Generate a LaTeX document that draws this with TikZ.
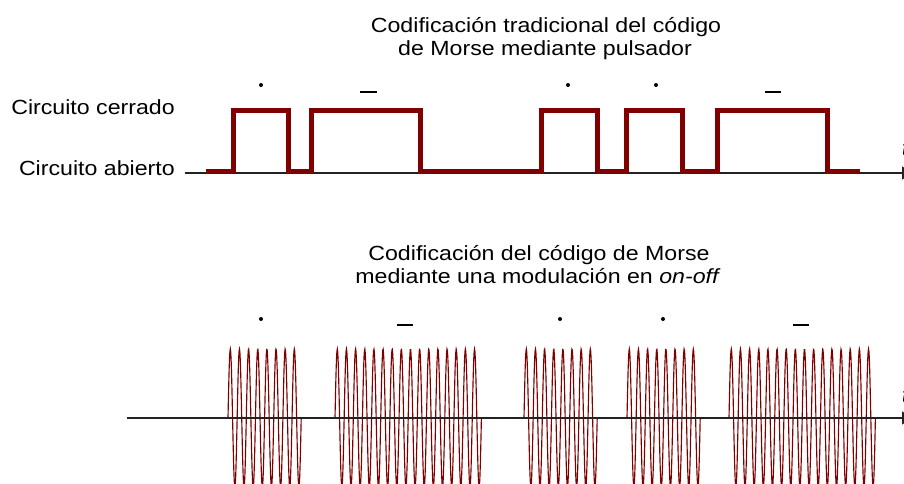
\documentclass[tikz,border=0pt]{standalone}
\usepackage{fontspec}
\usepackage{graphicx}
\setmainfont{Liberation Sans}
\usetikzlibrary{arrows.meta}
\definecolor{maroon}{HTML}{800000}
\definecolor{axisgray}{HTML}{222222}
\newcommand{\wtxt}[1]{\scalebox{1.13}[1]{#1}}
\tikzset{
  lbl/.style={inner sep=0pt, anchor=base, font=\fontsize{20.5}{24}\selectfont},
  lblr/.style={lbl, anchor=base east},
  axisline/.style={draw=axisgray, line width=1.6pt, -{Triangle[length=10pt,width=13pt]}},
  pulse/.style={draw=maroon, line width=5pt, line join=miter},
  wave/.style={draw=maroon, line width=1.15pt},
  dotmark/.style={fill=black},
  dashmark/.style={draw=black, line width=2.4pt},
}
\begin{document}
\begin{tikzpicture}[x=1pt,y=-1pt]
\useasboundingbox (0,0) rectangle (904,483);
\fill[white] (0,0) rectangle (904,483);
\clip (0,0) rectangle (904,483);

% titles
\node[lbl] (t1a) at (546,32) {\wtxt{Codificación tradicional del código}};
\node[lbl] (t1b) at (545,55.5) {\wtxt{de Morse mediante pulsador}};
\node[lbl] (t2a) at (539,260.5) {\wtxt{Codificación del código de Morse}};
\node[lbl] (t2b) at (538,283.5) {\wtxt{mediante una modulación en \textit{on-off}}};

% level labels
\node[lblr] (cc) at (175,114) {\wtxt{Circuito cerrado}};
\node[lblr] (ca) at (175,175) {\wtxt{Circuito abierto}};

% on-off modulated bursts
\foreach \s/\n in {228/8, 335/16, 524/8, 627/8, 729/16} {
  \draw[wave] plot[domain=0:\n*9.15, samples=\n*24] ({\s+\x}, {418-69*sin((\x/9.15)*360)});
}

% axes
\coordinate (a1s) at (185,173);
\coordinate (a1e) at (912,173);
\coordinate (a2s) at (127,418);
\coordinate (a2e) at (912,418);
\draw[axisline] (a1s) -- (a1e);
\draw[axisline] (a2s) -- (a2e);
\node[lbl, anchor=base west, font=\fontsize{20.5}{24}\selectfont\itshape] (tl1) at (902,155) {t};
\node[lbl, anchor=base west, font=\fontsize{20.5}{24}\selectfont\itshape] (tl2) at (902,402) {t};

% top pulse train
\draw[pulse] (206,171) -- (233.5,171) -- (233.5,110) -- (288,110) -- (288,171)
  -- (311.5,171) -- (311.5,110) -- (420.5,110) -- (420.5,171)
  -- (541,171) -- (541,110) -- (597,110) -- (597,171)
  -- (626,171) -- (626,110) -- (682,110) -- (682,171)
  -- (717,171) -- (717,110) -- (827,110) -- (827,171) -- (860,171);

% top marks
\fill[dotmark] (261,85) circle (2pt);
\draw[dashmark] (360,92) -- (377,92);
\fill[dotmark] (568,85) circle (2pt);
\fill[dotmark] (656,85) circle (2pt);
\draw[dashmark] (765,92) -- (781,92);

% bottom marks
\fill[dotmark] (261,319) circle (2pt);
\draw[dashmark] (397,325) -- (413,325);
\fill[dotmark] (560,319) circle (2pt);
\fill[dotmark] (663,319) circle (2pt);
\draw[dashmark] (793,325) -- (809,325);
\end{tikzpicture}
\end{document}
